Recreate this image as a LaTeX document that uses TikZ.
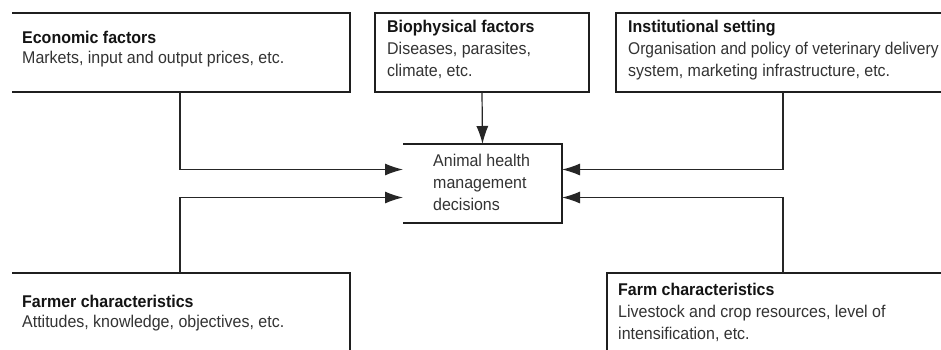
\documentclass[tikz,border=0pt]{standalone}
\usepackage{fontspec}
\setmainfont[FakeStretch=0.94]{Liberation Sans}
\newfontfamily\narrowtxt[FakeStretch=0.915]{Liberation Sans}
\usetikzlibrary{arrows.meta}
\begin{document}
\begin{tikzpicture}[x=1pt,y=-1pt,
  frame/.style={draw=none,inner sep=0pt,outer sep=0pt,anchor=north west},
  edge/.style={draw=black!88,line width=1.5pt},
  conn/.style={draw=black!85,line width=1.2pt},
  arr/.style={conn,-{Latex[length=18pt,width=12pt]}},
  ttl/.style={anchor=base west,inner sep=0pt,font=\fontsize{17}{22}\selectfont\bfseries,text=black!92},
  dsc/.style={anchor=base west,inner sep=0pt,font=\fontsize{17}{22}\selectfont,text=black!80}]
\useasboundingbox (0,0) rectangle (941,349);
\clip (0,0) rectangle (941,349);
\fill[white] (0,0) rectangle (941,349);

% box frames (as invisible nodes)
\node[frame,minimum width=338pt,minimum height=79pt] (eco) at (12,13) {};
\node[frame,minimum width=214pt,minimum height=79pt] (bio) at (375,13) {};
\node[frame,minimum width=340pt,minimum height=79pt] (inst) at (616,13) {};
\node[frame,minimum width=159pt,minimum height=79pt] (dec) at (403,144) {};
\node[frame,minimum width=338pt,minimum height=90pt] (farmer) at (12,273) {};
\node[frame,minimum width=340pt,minimum height=90pt] (farm) at (607,273) {};

% visible sides
\draw[edge] (eco.north west) -- (eco.north east) -- (eco.south east) -- (eco.south west);
\draw[edge] (bio.north west) rectangle (bio.south east);
\draw[edge] (inst.north east) -- (inst.north west) -- (inst.south west) -- (inst.south east);
\draw[edge] (dec.north west) -- (dec.north east) -- (dec.south east) -- (dec.south west);
\draw[edge] (farmer.north west) -- (farmer.north east) -- (farmer.south east);
\draw[edge] (farm.north east) -- (farm.north west) -- (farm.south west);

% texts
\node[ttl] (ecoT) at (22,43) {Economic factors};
\node[dsc] (ecoD) at (22,63) {Markets, input and output prices, etc.};

\node[ttl] (bioT) at (387,32) {Biophysical factors};
\node[dsc] (bioD1) at (387,54) {Diseases, parasites,};
\node[dsc] (bioD2) at (387,76) {climate, etc.};

\node[ttl] (instT) at (628,32) {Institutional setting};
\node[dsc] (instD1) at (628,54) {\narrowtxt Organisation and policy of veterinary delivery};
\node[dsc] (instD2) at (628,76) {system, marketing infrastructure, etc.};

\node[dsc] (decD1) at (433,166) {Animal health};
\node[dsc] (decD2) at (433,188) {management};
\node[dsc] (decD3) at (433,210) {decisions};

\node[ttl] (farmerT) at (22,307) {Farmer characteristics};
\node[dsc] (farmerD) at (22,327) {Attitudes, knowledge, objectives, etc.};

\node[ttl] (farmT) at (618,295) {Farm characteristics};
\node[dsc] (farmD1) at (618,317) {Livestock and crop resources, level of};
\node[dsc] (farmD2) at (618,339) {intensification, etc.};

% connectors
\coordinate (xl) at (180,0);
\coordinate (xr) at (783,0);
\draw[arr] (eco.south -| xl) |- ([yshift=14pt]dec.west);
\draw[arr] (farmer.north -| xl) |- ([yshift=-14pt]dec.west);
\draw[arr] (bio.south) -- (dec.north);
\draw[arr] (inst.south -| xr) |- ([yshift=14pt]dec.east);
\draw[arr] (farm.north -| xr) |- ([yshift=-14pt]dec.east);
\end{tikzpicture}
\end{document}
